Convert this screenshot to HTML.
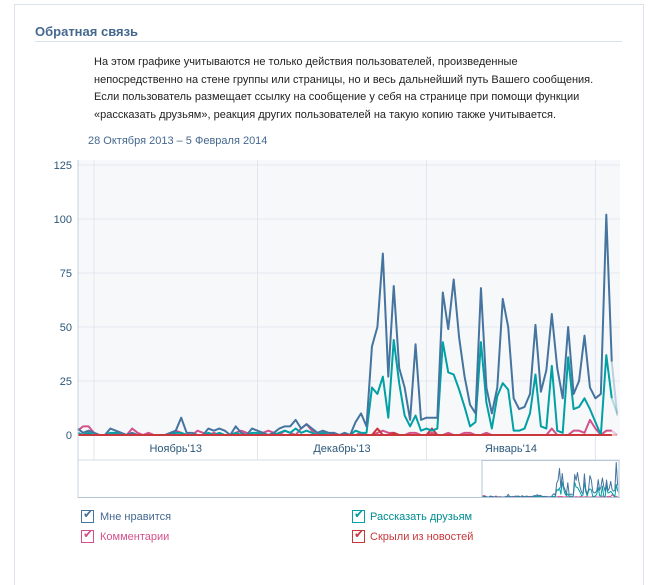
<!DOCTYPE html>
<html><head><meta charset="utf-8">
<style>
body{margin:0;width:658px;height:572px;background:#fff;font-family:"Liberation Sans","DejaVu Sans",sans-serif;position:relative;overflow:hidden}
.panel{position:absolute;left:14px;top:4px;width:628px;height:580px;border-left:1px solid #dde3ea;border-top:1px solid #dde3ea;border-right:1px solid #dde3ea}
.title{position:absolute;left:35px;top:24px;font-size:13px;font-weight:bold;color:#45688e}
.rule{position:absolute;left:35px;top:41px;width:587px;height:1px;background:#dae1e8}
.desc{position:absolute;left:94px;top:54px;font-size:11px;line-height:17.5px;color:#222;width:530px}
.date{position:absolute;left:88px;top:135px;font-size:11px;color:#45688e}
.leg{position:absolute;font-size:11px}
.cb{position:absolute;width:11px;height:11px;border:1px solid}
</style></head><body>
<div class="panel"></div>
<div class="title">Обратная связь</div>
<div class="rule"></div>
<div class="desc">На этом графике учитываются не только действия пользователей, произведенные<br>непосредственно на стене группы или страницы, но и весь дальнейший путь Вашего сообщения.<br>Если пользователь размещает ссылку на сообщение у себя на странице при помощи функции<br>«рассказать друзьям», реакция других пользователей на такую копию также учитывается.</div>
<div class="date">28 Октября 2013 – 5 Февраля 2014</div>
<svg id="chart" width="658" height="572" style="position:absolute;left:0;top:0"></svg>

<div class="cb" style="left:81px;top:510px;border-color:#45749f"><span style="position:absolute;left:1px;top:-4px;color:#45749f;font-size:12px">✔</span></div>
<div class="leg" style="left:100px;top:511px;color:#45688e">Мне нравится</div>
<div class="cb" style="left:81px;top:530px;border-color:#d3518b"><span style="position:absolute;left:1px;top:-4px;color:#d3518b;font-size:12px">✔</span></div>
<div class="leg" style="left:100px;top:531px;color:#d3518b">Комментарии</div>
<div class="cb" style="left:352px;top:510px;border-color:#00a0a5"><span style="position:absolute;left:1px;top:-4px;color:#00a0a5;font-size:12px">✔</span></div>
<div class="leg" style="left:370px;top:511px;color:#008d92">Рассказать друзьям</div>
<div class="cb" style="left:352px;top:530px;border-color:#c8383c"><span style="position:absolute;left:1px;top:-4px;color:#c8383c;font-size:12px">✔</span></div>
<div class="leg" style="left:370px;top:531px;color:#c8383c">Скрыли из новостей</div>

<script>
const yTicks=[0,25,50,75,100,125];
const monthLabels=["Ноябрь'13","Декабрь'13","Январь'14"];
const monthStartDays=[4,34,65,96];
const likes=[3,1,2,1,0,0,3,2,1,0,1,0,0,0,0,0,0,1,2,8,1,1,0,0,3,2,3,2,0,4,1,0,3,2,1,0,1,3,4,4,7,3,5,3,1,2,1,1,0,1,
0,6,10,4,41,50,84,27,69,31,22,7,42,7,8,8,8,66,49,72,45,27,14,10,68,22,10,22,63,50,17,12,13,19,51,20,30,56,31,17,50,19,25,46,22,17,19,102,34,9];
const share=[1,0,1,0,0,0,1,1,0,0,0,0,0,0,0,0,0,0,1,1,0,0,0,0,1,0,1,0,0,1,0,0,1,1,0,0,0,1,2,1,3,1,2,1,0,1,0,0,0,0,
0,2,1,1,22,19,27,8,44,24,9,4,9,2,3,2,3,43,29,28,21,13,4,6,43,15,3,18,24,21,2,2,3,10,28,4,3,32,2,1,36,12,13,17,12,6,0,37,17,10];
const comments=[2,4,4,1,0,0,0,1,0,0,3,1,0,1,0,0,0,0,2,1,0,0,2,1,0,1,0,0,0,1,2,1,0,0,1,2,1,0,2,1,0,3,5,2,1,0,0,1,0,0,
0,0,1,0,0,1,2,1,1,0,0,1,1,0,0,1,0,0,1,0,0,1,1,0,0,1,0,0,0,0,0,0,0,0,0,0,0,3,0,0,0,2,2,1,7,3,0,2,2,0];
const hidden=[0,0,0,0,0,0,0,0,0,0,0,0,0,0,0,0,0,0,0,0,0,0,0,0,0,0,0,0,0,0,0,0,0,0,0,0,0,0,0,0,0,0,0,0,0,0,0,0,0,0,
0,0,0,0,0,3,0,0,1,0,0,0,0,0,0,3,0,0,0,0,0,0,0,0,0,0,0,0,0,0,0,0,0,0,0,0,0,0,0,0,0,0,0,0,0,0,0,0,0,0];

const svg=document.getElementById('chart');
const NS='http://www.w3.org/2000/svg';
const X0=78,X1=620,Y0=435,YT=165;
const xs=d=>94+(d-4)*5.45; // d = day index, 1 = 29 Oct
const ys=v=>Y0-v*(Y0-YT)/125;
function mk(t,a){const e=document.createElementNS(NS,t);for(const k in a)e.setAttribute(k,a[k]);svg.appendChild(e);return e;}

let bg=mk('rect',{x:X0,y:YT-5,width:X1-X0,height:Y0-YT+5,fill:'#f7f8fa'});


let band=mk('rect',{x:X0,y:Y0,width:X1-X0-3,height:25,fill:'#fff'});



yTicks.forEach(v=>{
  if(v>0){const g=mk('line',{x1:X0,x2:X1,y1:ys(v),y2:ys(v),stroke:'#e3e8ef','stroke-width':1});
  
  }
  const t=mk('text',{x:72,y:ys(v)+4,'text-anchor':'end','font-size':11,fill:'#2b587a','font-family':'Liberation Sans, sans-serif'});
  t.textContent=v;
  
  
});
monthStartDays.forEach(d=>{
  const g=mk('line',{x1:xs(d),x2:xs(d),y1:YT-5,y2:460,stroke:'#e0e6ee','stroke-width':1});
  
  
});
monthLabels.forEach((m,i)=>{
  const t=mk('text',{x:(xs(monthStartDays[i])+xs(monthStartDays[i+1]))/2,y:452,'text-anchor':'middle','font-size':11,fill:'#2b587a','font-family':'Liberation Sans, sans-serif'});
  t.textContent=m;
  
  
});
let bl=mk('line',{x1:X0,x2:X1,y1:460,y2:460,stroke:'#d4dde7'});



function series(arr,color,name,sc,xf,yf,w){
  const n=arr.length;
  let pts=[];for(let i=0;i<n-1;i++)pts.push(xf(i+1)+','+yf(arr[i]*sc));
  const p=mk('polyline',{points:pts.join(' '),fill:'none',stroke:color,'stroke-width':w,'stroke-linejoin':'round'});
  
  
  const q=mk('line',{x1:xf(n-1),y1:yf(arr[n-2]*sc),x2:xf(n),y2:yf(arr[n-1]*sc),stroke:color,'stroke-width':w,opacity:0.3});
  
  
}
series(comments,'#d3518b','comments-line',1,xs,ys,2);
series(hidden,'#c8383c','hidden-line',1,xs,ys,2);
series(share,'#00a0a5','share-line',1,xs,ys,2);
series(likes,'#45749f','likes-line',1,xs,ys,2);
let bz=mk('line',{x1:X0,x2:xs(99),y1:Y0,y2:Y0,stroke:'#c8383c','stroke-width':2});



// navigator
const NX0=482,NX1=619,NY=497;
const nxs=d=>NX0+(d-1)*(NX1-NX0)/99;
const nys=v=>NY-v*0.34;
series(comments,'#d3518b','nav-comments-line',1,nxs,nys,1);
series(share,'#00a0a5','nav-share-line',1,nxs,nys,1);
series(likes,'#45749f','nav-likes-line',1,nxs,nys,1);
let sel=mk('rect',{x:NX0,y:460.5,width:NX1-NX0,height:37,fill:'none',stroke:'#b6c6d6'});


let ax=mk('line',{x1:X0,x2:X0,y1:160,y2:498,stroke:'#c5d3e0'});


let nb=mk('line',{x1:X0,x2:X1,y1:497.5,y2:497.5,stroke:'#b6c6d6'});


</script>
</body></html>
